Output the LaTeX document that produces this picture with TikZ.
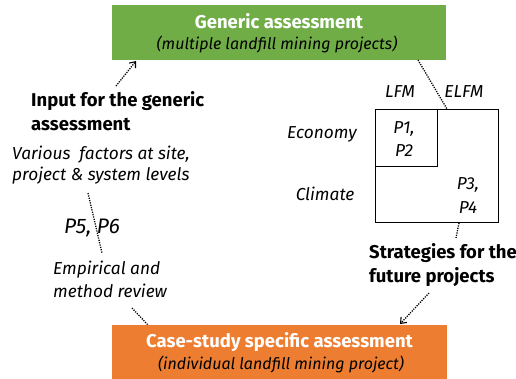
\documentclass[tikz,border=0pt]{standalone}
\usepackage{fontspec}
\setmainfont{Fira Sans}
\usetikzlibrary{arrows.meta}
\definecolor{gengreen}{HTML}{70AD47}
\definecolor{caseorange}{HTML}{ED7D31}
\tikzset{
  titlebox/.style={draw=none, minimum width=334pt, minimum height=55pt, inner sep=0pt, align=center},
  titletxt/.style={font=\fontsize{18.5}{22}\selectfont\bfseries, text=white, inner sep=0pt},
  subtxt/.style={font=\fontsize{16}{20}\selectfont\itshape, inner sep=0pt},
  boldlbl/.style={font=\fontsize{18.5}{21}\selectfont\bfseries, inner sep=0pt, align=left},
  itlbl/.style={font=\fontsize{17.3}{20}\selectfont\itshape, inner sep=0pt, align=left},
  pairlbl/.style={font=\fontsize{17.3}{23.5}\selectfont\itshape, inner sep=0pt, align=center},
  dotline/.style={line width=1.3pt, dash pattern=on 1.2pt off 1.2pt},
  dotarrow/.style={dotline, -{Straight Barb[length=5pt,width=8pt,line width=1.1pt]}},
  cell/.style={draw, line width=0.8pt, inner sep=0pt}
}
\begin{document}
\begin{tikzpicture}[x=1pt,y=-1pt]
\useasboundingbox (0,0) rectangle (516,378);
% title boxes
\node[titlebox, fill=gengreen] (gen) at (279,32.5) {};
\node[titletxt] (gent) at (279,21) {Generic assessment};
\node[subtxt] (gens) at (277,44) {(multiple landfill mining projects)};
\node[titlebox, fill=caseorange, minimum height=56pt, minimum width=335pt] (case) at (279.5,353) {};
\node[titletxt] (caset) at (279.5,342) {Case-study specific assessment};
\node[subtxt] (cases) at (281,364) {(individual landfill mining project)};
% left column
\node[boldlbl, anchor=west] (inp1) at (31,101) {Input for the generic};
\node[boldlbl, anchor=west] (inp2) at (31,125) {assessment};
\node[itlbl, anchor=west] (var1) at (12,155) {Various\ \ factors at site,};
\node[itlbl, anchor=west] (var2) at (12,176) {project \& system levels};
\node[font=\fontsize{21}{24}\selectfont\itshape, inner sep=0pt] (p56) at (92,228) {P5, P6};
\node[itlbl, anchor=west] (emp1) at (53,270) {Empirical and};
\node[itlbl, anchor=west] (emp2) at (53,291) {method review};
% matrix
\node[cell, minimum width=123pt, minimum height=113pt] (outer) at (436.5,165.5) {};
\node[cell, minimum width=62pt, minimum height=57pt] (inner) at (406,137.5) {};
\node[itlbl, anchor=center] (lfm) at (400,92) {LFM};
\node[itlbl, anchor=center] (elfm) at (464,92) {ELFM};
\node[itlbl, anchor=center] (eco) at (322,134) {Economy};
\node[itlbl, anchor=center] (cli) at (325,194) {Climate};
\node[pairlbl] (p12) at (404,139) {P1,\\P2};
\node[pairlbl] (p34) at (468,195.5) {P3,\\P4};
\node[boldlbl, anchor=west] (str1) at (369,253) {Strategies for the};
\node[boldlbl, anchor=west] (str2) at (369,277) {future projects};
% connectors
\coordinate (a1) at (116,86);
\coordinate (a2) at (136,61);
\draw[dotarrow] (a1) -- (a2);
\coordinate (b1) at (418,60);
\coordinate (b2) at (447,109);
\draw[dotline] (b1) -- (b2);
\coordinate (c1) at (459,223);
\coordinate (c2) at (456,238);
\draw[dotline] (c1) -- (c2);
\coordinate (d1) at (429,293);
\coordinate (d2) at (400,324);
\draw[dotarrow] (d1) -- (d2);
\coordinate (e1) at (88,193);
\coordinate (e2) at (102,253);
\draw[dotline] (e1) -- (e2);
\coordinate (f1) at (132,308);
\coordinate (f2) at (148,325);
\draw[dotline] (f1) -- (f2);
\end{tikzpicture}
\end{document}
